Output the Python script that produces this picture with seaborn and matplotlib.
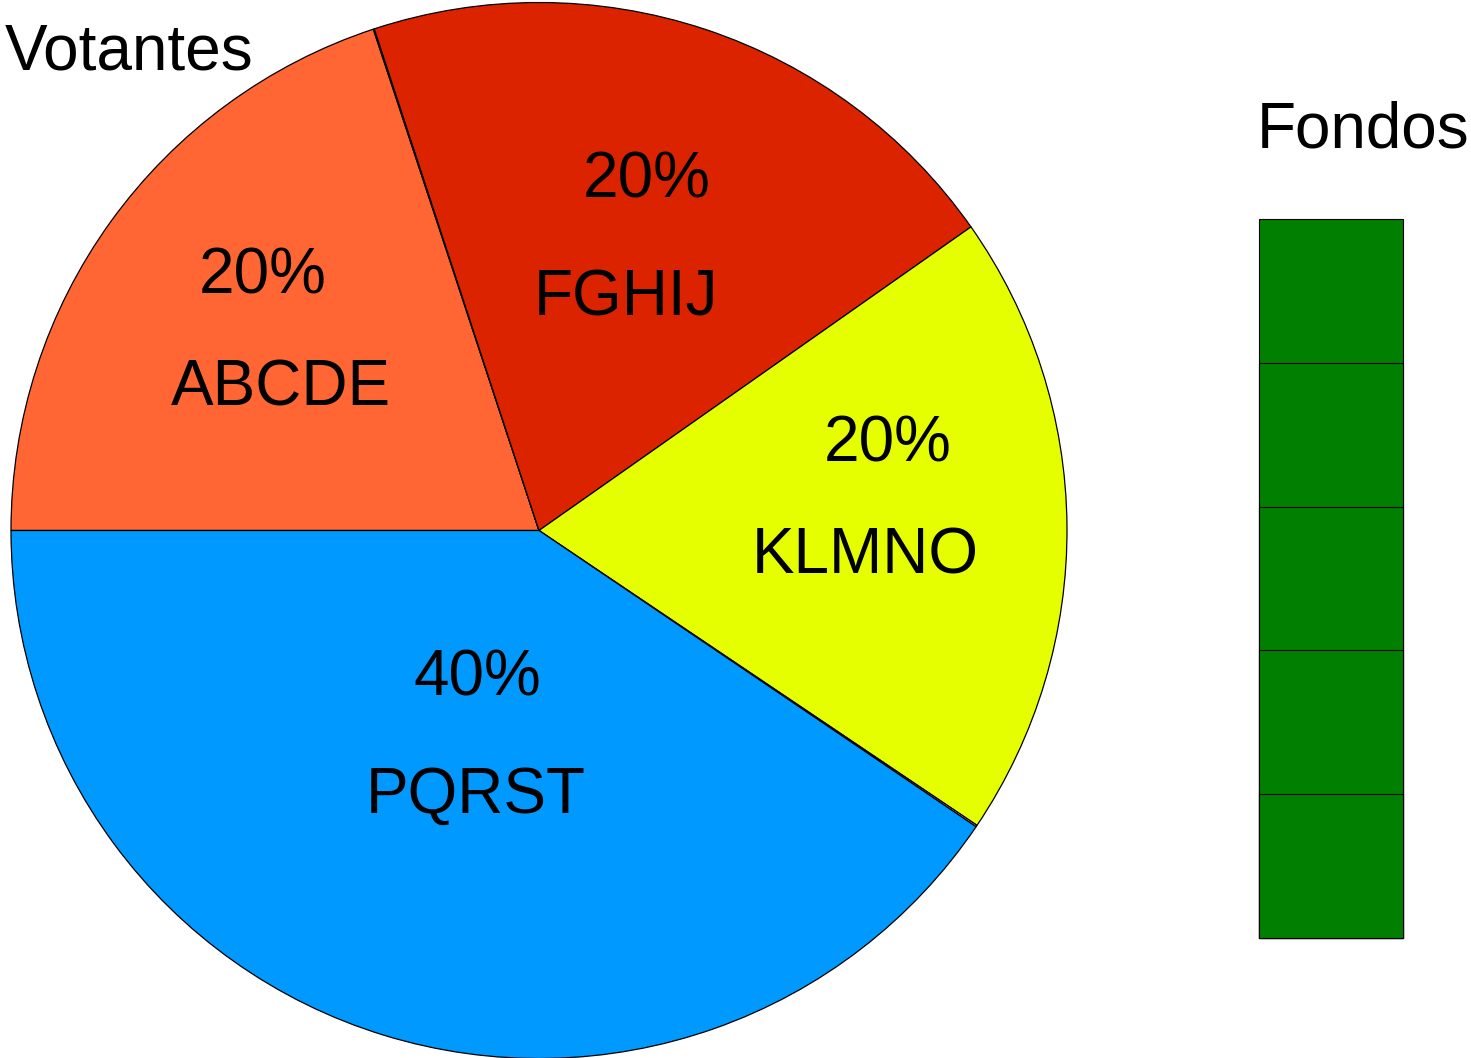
import matplotlib
matplotlib.use("Agg")
import matplotlib.pyplot as plt
import seaborn as sns
import numpy as np

# ---- data ----
categories = ["ABCDE", "", "FGHIJ", "KLMNO", "", "PQRST"]
shares = [19.92, 0.03, 20.30, 19.18, 0.05, 40.52]
pct_labels = ["20%", "", "20%", "20%", "", "40%"]
slice_colors = ["#FF6633", "#FFFFFF", "#DC2300", "#E6FF00", "#FFFFFF", "#0099FF"]
fondos = [1, 1, 1, 1, 1]
fondos_color = "#007F00"
title_left = "Votantes"
title_right = "Fondos"

sns.set_theme(style="white")
plt.rcParams["font.family"] = ["Liberation Sans", "DejaVu Sans"]
plt.rcParams["text.color"] = "black"

W, H = 1471, 1058
fig = plt.figure(figsize=(W / 100, H / 100), dpi=100)
fig.patch.set_facecolor("white")

# pie axes: centre / radius in pixels
cx, cy, R = 539.0, 530.5, 528.0
ax = fig.add_axes([(cx - R) / W, (H - cy - R) / H, 2 * R / W, 2 * R / H])
wedges, _ = ax.pie(shares, colors=slice_colors, startangle=180, counterclock=False,
                   wedgeprops=dict(edgecolor="black", linewidth=0.9))
ax.set_xlim(-1, 1)
ax.set_ylim(-1, 1)
ax.set_aspect("equal")
ax.axis("off")

# label layout: (centre x, baseline y) in pixels
pct_anchor = [(263, 293), None, (647, 197), (888, 461), None, (477, 695)]
name_anchor = [(281, 405), None, (626, 315), (865, 573), None, (476, 813)]
fs = 46
for i in range(len(categories)):
    if not categories[i]:
        continue
    px, py = pct_anchor[i]
    fig.text(px / W, 1 - py / H, pct_labels[i], ha="center", va="baseline",
             fontsize=fs, color="black")
    px, py = name_anchor[i]
    fig.text(px / W, 1 - py / H, categories[i], ha="center", va="baseline",
             fontsize=fs, color="black")

fig.text(5 / W, 1 - 70 / H, title_left, ha="left", va="baseline", fontsize=fs, color="black")
fig.text(1257 / W, 1 - 147 / H, title_right, ha="left", va="baseline", fontsize=fs, color="black")

# stacked column of Fondos
bx0, bx1, by0, by1 = 1259, 1403, 219, 938
bax = fig.add_axes([bx0 / W, (H - by1) / H, (bx1 - bx0) / W, (by1 - by0) / H])
cum = np.cumsum(fondos)
for top in cum[::-1]:
    sns.barplot(x=[0], y=[top], ax=bax, color=fondos_color, width=1.0,
                edgecolor="black", linewidth=0.8, saturation=1)
for p in bax.patches:
    p.set_clip_on(False)
bax.set_xlim(-0.5, 0.5)
bax.set_ylim(0, cum[-1])
bax.axis("off")

fig.savefig("out.png", dpi=100, facecolor="white")
